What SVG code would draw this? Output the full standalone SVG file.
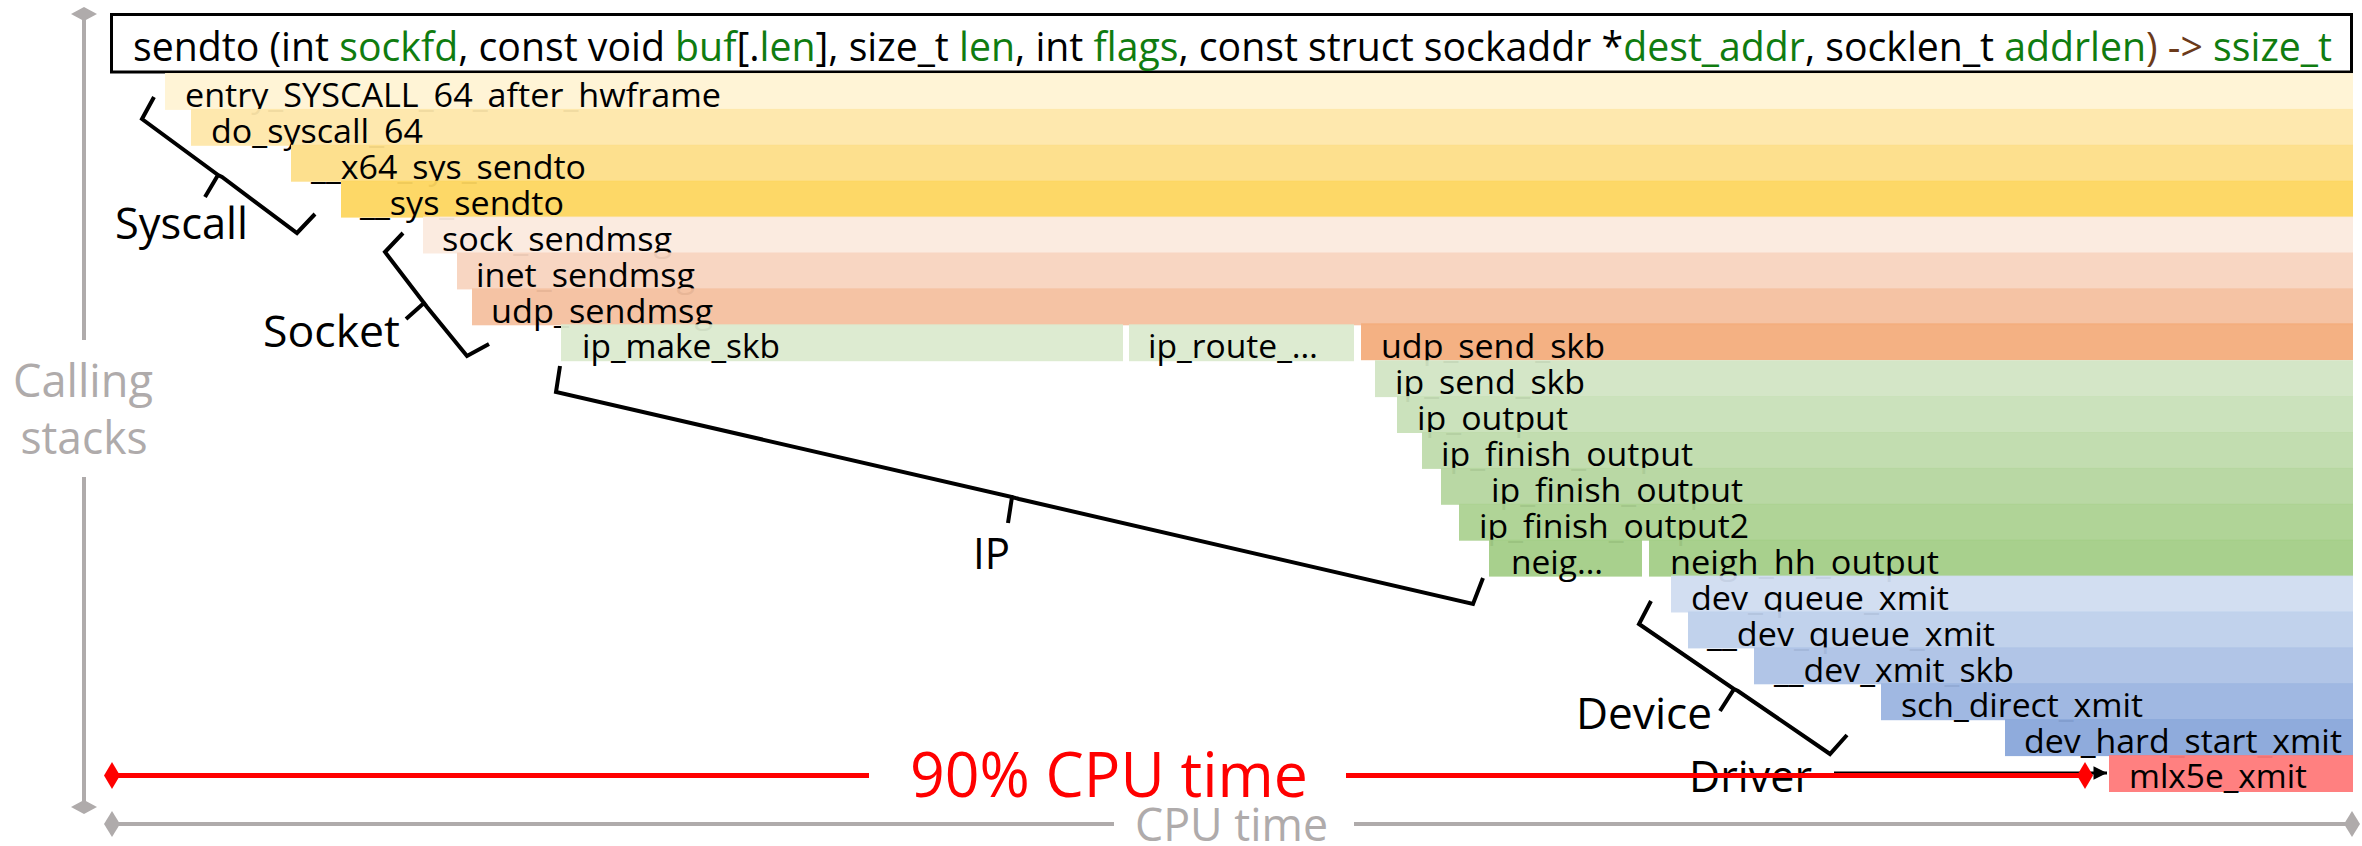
<svg xmlns="http://www.w3.org/2000/svg" width="2362" height="846" viewBox="0 0 2362 846">
  <defs>
    <style>
      .lbl { font-family: "Open Sans", "Liberation Sans", sans-serif; font-size: 33px; fill: #000; }
      .big { font-family: "Open Sans", "Liberation Sans", sans-serif; font-size: 44px; fill: #000; }
      .gray { font-family: "Open Sans", "Liberation Sans", sans-serif; font-size: 45px; fill: #AFABAB; }
      .title { font-family: "Open Sans", "Liberation Sans", sans-serif; font-size: 40px; fill: #000; }
      .g { fill: #107C10; }
      .br { fill: #6B3A1A; }
      .bar { fill-opacity: 0.95; }
      .axis { stroke: #AFABAB; stroke-width: 4; fill: none; }
      .axisTip { fill: #AFABAB; }
      .brace { stroke: #000; stroke-width: 4; fill: none; stroke-linejoin: miter; stroke-linecap: butt; }
      .red { stroke: #FF0000; stroke-width: 5; fill: none; }
    </style>
    <marker id="arrowBlack" viewBox="0 0 10 10" refX="10" refY="5" markerWidth="5" markerHeight="4.5" markerUnits="strokeWidth" orient="auto">
      <path d="M0,0 L10,5 L0,10 Z" fill="#000"/>
    </marker>
  </defs>

  <rect width="2362" height="846" fill="#fff"/>

  <!-- axes -->
  <g id="axes">
    <line class="axis" x1="84" y1="14" x2="84" y2="340"/>
    <line class="axis" x1="84" y1="477" x2="84" y2="807"/>
    <polygon class="axisTip" points="71,14 84,7 97,14 84,21"/>
    <polygon class="axisTip" points="71,807 84,800 97,807 84,814"/>
    <text class="gray" x="83" y="397" text-anchor="middle" textLength="140" lengthAdjust="spacingAndGlyphs">Calling</text>
    <text class="gray" x="84" y="454" text-anchor="middle" textLength="127" lengthAdjust="spacingAndGlyphs">stacks</text>

    <line class="axis" x1="112" y1="824" x2="1114" y2="824"/>
    <line class="axis" x1="1354" y1="824" x2="2352" y2="824"/>
    <polygon class="axisTip" points="104,824 112,811 120,824 112,837"/>
    <polygon class="axisTip" points="2344,824 2352,811 2360,824 2352,837"/>
    <text class="gray" x="1135" y="841" textLength="193" lengthAdjust="spacingAndGlyphs">CPU time</text>
  </g>

  <!-- function signature -->
  <g id="signature">
    <rect x="111.5" y="14.5" width="2240" height="57.5" fill="#fff" stroke="#000" stroke-width="3"/>
    <text class="title" x="133" y="61" textLength="2199" lengthAdjust="spacingAndGlyphs">sendto (int <tspan class="g">sockfd</tspan>, const void <tspan class="g">buf</tspan>[.<tspan class="g">len</tspan>], size_t <tspan class="g">len</tspan>, int <tspan class="g">flags</tspan>, const struct sockaddr *<tspan class="g">dest_addr</tspan>, socklen_t <tspan class="g">addrlen</tspan><tspan class="br">) -&gt; </tspan><tspan class="g">ssize_t</tspan></text>
  </g>

  <!-- stack frames, drawn top to bottom so each row overlaps the descenders above it -->
  <g id="frames">
    <g id="f-entry_SYSCALL_64_after_hwframe">
      <rect class="bar" x="165" y="73" width="2188" height="36.9" fill="#FFF3D4"/>
      <text class="lbl" x="185" y="107" textLength="536" lengthAdjust="spacingAndGlyphs">entry_SYSCALL_64_after_hwframe</text>
    </g>
    <g id="f-do_syscall_64">
      <rect class="bar" x="191" y="108.9" width="2162" height="36.9" fill="#FEE7AA"/>
      <text class="lbl" x="211" y="143" textLength="212" lengthAdjust="spacingAndGlyphs">do_syscall_64</text>
    </g>
    <g id="f-__x64_sys_sendto">
      <rect class="bar" x="291" y="144.8" width="2062" height="36.9" fill="#FDDE88"/>
      <text class="lbl" x="311" y="179" textLength="275" lengthAdjust="spacingAndGlyphs">__x64_sys_sendto</text>
    </g>
    <g id="f-__sys_sendto">
      <rect class="bar" x="341" y="180.7" width="2012" height="36.9" fill="#FDD65F"/>
      <text class="lbl" x="360" y="215" textLength="204" lengthAdjust="spacingAndGlyphs">__sys_sendto</text>
    </g>
    <g id="f-sock_sendmsg">
      <rect class="bar" x="423" y="216.6" width="1930" height="36.9" fill="#FBEADE"/>
      <text class="lbl" x="442" y="251" textLength="230" lengthAdjust="spacingAndGlyphs">sock_sendmsg</text>
    </g>
    <g id="f-inet_sendmsg">
      <rect class="bar" x="457" y="252.5" width="1896" height="36.9" fill="#F8D4BF"/>
      <text class="lbl" x="476" y="287" textLength="219" lengthAdjust="spacingAndGlyphs">inet_sendmsg</text>
    </g>
    <g id="f-udp_sendmsg">
      <rect class="bar" x="472" y="288.4" width="1881" height="36.9" fill="#F4C09F"/>
      <text class="lbl" x="491" y="323" textLength="222" lengthAdjust="spacingAndGlyphs">udp_sendmsg</text>
    </g>
    <g id="f-ip_make_skb">
      <rect class="bar" x="561" y="324.3" width="562" height="36.9" fill="#DBEACF"/>
      <text class="lbl" x="582" y="358" textLength="198" lengthAdjust="spacingAndGlyphs">ip_make_skb</text>
    </g>
    <g id="f-ip_route">
      <rect class="bar" x="1129" y="324.3" width="225" height="36.9" fill="#DBEACF"/>
      <text class="lbl" x="1148" y="358" textLength="170" lengthAdjust="spacingAndGlyphs">ip_route_…</text>
    </g>
    <g id="f-udp_send_skb">
      <rect class="bar" x="1361" y="323.3" width="992" height="36.9" fill="#F3AD7C"/>
      <text class="lbl" x="1381" y="358" textLength="224" lengthAdjust="spacingAndGlyphs">udp_send_skb</text>
    </g>
    <g id="f-ip_send_skb">
      <rect class="bar" x="1375" y="360.2" width="978" height="36.9" fill="#D2E5C4"/>
      <text class="lbl" x="1395" y="394" textLength="190" lengthAdjust="spacingAndGlyphs">ip_send_skb</text>
    </g>
    <g id="f-ip_output">
      <rect class="bar" x="1397" y="396.1" width="956" height="36.9" fill="#C8E0B8"/>
      <text class="lbl" x="1417" y="430" textLength="151" lengthAdjust="spacingAndGlyphs">ip_output</text>
    </g>
    <g id="f-ip_finish_output">
      <rect class="bar" x="1422" y="432" width="931" height="36.9" fill="#BFDBAC"/>
      <text class="lbl" x="1441" y="466" textLength="252" lengthAdjust="spacingAndGlyphs">ip_finish_output</text>
    </g>
    <g id="f-ip_finish_output-inner">
      <rect class="bar" x="1441" y="467.9" width="912" height="36.9" fill="#B5D69F"/>
      <text class="lbl" x="1491" y="502" textLength="252" lengthAdjust="spacingAndGlyphs">ip_finish_output</text>
    </g>
    <g id="f-ip_finish_output2">
      <rect class="bar" x="1459" y="503.8" width="894" height="36.9" fill="#ACD291"/>
      <text class="lbl" x="1479" y="538" textLength="270" lengthAdjust="spacingAndGlyphs">ip_finish_output2</text>
    </g>
    <g id="f-neigh">
      <rect class="bar" x="1489" y="539.7" width="153" height="36.9" fill="#A3CE87"/>
      <text class="lbl" x="1511" y="574" textLength="92" lengthAdjust="spacingAndGlyphs">neig…</text>
    </g>
    <g id="f-neigh_hh_output">
      <rect class="bar" x="1649" y="539.7" width="704" height="36.9" fill="#A3CE87"/>
      <text class="lbl" x="1670" y="574" textLength="269" lengthAdjust="spacingAndGlyphs">neigh_hh_output</text>
    </g>
    <g id="f-dev_queue_xmit">
      <rect class="bar" x="1671" y="575.6" width="682" height="36.9" fill="#D0DCF0"/>
      <text class="lbl" x="1691" y="610" textLength="258" lengthAdjust="spacingAndGlyphs">dev_queue_xmit</text>
    </g>
    <g id="f-__dev_queue_xmit">
      <rect class="bar" x="1688" y="611.5" width="665" height="36.9" fill="#BED0EB"/>
      <text class="lbl" x="1707" y="646" textLength="288" lengthAdjust="spacingAndGlyphs">__dev_queue_xmit</text>
    </g>
    <g id="f-__dev_xmit_skb">
      <rect class="bar" x="1754" y="647.4" width="599" height="36.9" fill="#ADC2E6"/>
      <text class="lbl" x="1774" y="682" textLength="240" lengthAdjust="spacingAndGlyphs">__dev_xmit_skb</text>
    </g>
    <g id="f-sch_direct_xmit">
      <rect class="bar" x="1881" y="683.3" width="472" height="36.9" fill="#9BB4E0"/>
      <text class="lbl" x="1901" y="717" textLength="242" lengthAdjust="spacingAndGlyphs">sch_direct_xmit</text>
    </g>
    <g id="f-dev_hard_start_xmit">
      <rect class="bar" x="2005" y="719.2" width="348" height="36.9" fill="#89A6DA"/>
      <text class="lbl" x="2024" y="753" textLength="318" lengthAdjust="spacingAndGlyphs">dev_hard_start_xmit</text>
    </g>
    <g id="f-mlx5e_xmit">
      <rect class="bar" x="2109" y="755.1" width="244" height="36.9" fill="#FF7979"/>
      <text class="lbl" x="2129" y="788" textLength="178" lengthAdjust="spacingAndGlyphs">mlx5e_xmit</text>
    </g>
  </g>

  <!-- layer labels -->
  <g id="layer-syscall"><text class="big" x="115" y="239" textLength="133" lengthAdjust="spacingAndGlyphs">Syscall</text></g>
  <g id="layer-socket"><text class="big" x="263" y="347" textLength="137" lengthAdjust="spacingAndGlyphs">Socket</text></g>
  <g id="layer-ip"><text class="big" x="973" y="569" textLength="37" lengthAdjust="spacingAndGlyphs">IP</text></g>
  <g id="layer-device"><text class="big" x="1576" y="729" textLength="136" lengthAdjust="spacingAndGlyphs">Device</text></g>
  <g id="layer-driver"><text class="big" x="1689" y="792" textLength="123" lengthAdjust="spacingAndGlyphs">Driver</text></g>

  <!-- braces and arrows -->
  <g id="connectors">
    <path class="brace" d="M154,97 L142,119 L218,175 L205,197 M218,175 L222,177 L297,233 L315,214"/>
    <path class="brace" d="M403,233 L385,252 L424,303 L406,319 M424,303 L427,307 L467,356 L489,344"/>
    <path class="brace" d="M560,366 L556,392 L1012,497 L1008,523 M1012,497 L1019,499 L1473,604 L1483,578"/>
    <path class="brace" d="M1651,601 L1639,624 L1734,689 L1720,711 M1734,689 L1738,691 L1830,754 L1847,735"/>

    <line x1="1834" y1="773" x2="2107" y2="773" stroke="#000" stroke-width="3" marker-end="url(#arrowBlack)"/>

    <line class="red" x1="112" y1="775.5" x2="869" y2="775.5"/>
    <line class="red" x1="1346" y1="775.5" x2="2085" y2="775.5"/>
    <polygon points="104,775.5 112,762 120,775.5 112,789" fill="#FF0000"/>
    <polygon points="2077,775.5 2085,762 2093,775.5 2085,789" fill="#FF0000"/>
    <text x="910" y="797" font-family="Open Sans, Liberation Sans, sans-serif" font-size="62" fill="#FF0000" textLength="398" lengthAdjust="spacingAndGlyphs">90% CPU time</text>
  </g>
</svg>
